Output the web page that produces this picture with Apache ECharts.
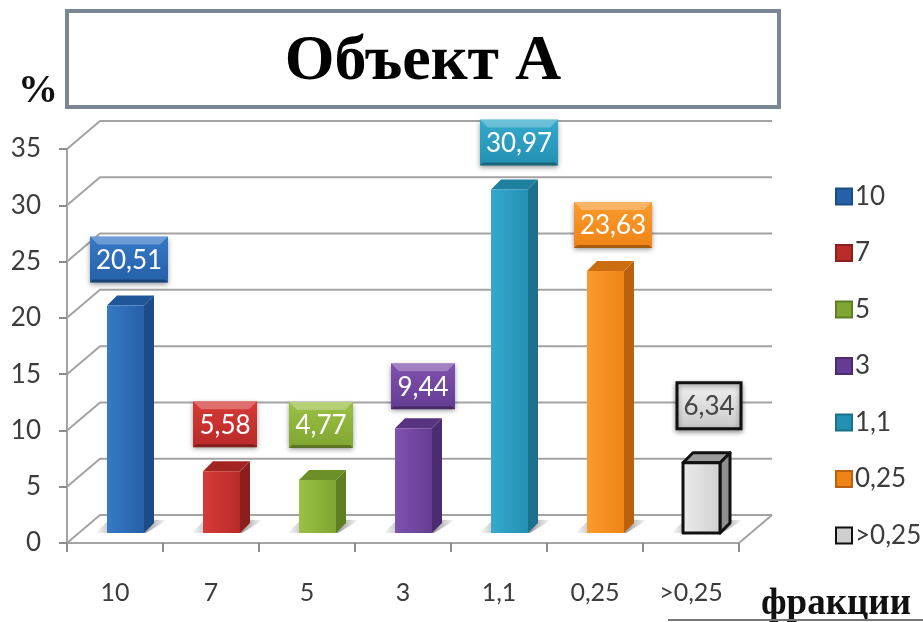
<!DOCTYPE html>
<html>
<head>
<meta charset="utf-8">
<style>html,body{margin:0;padding:0;background:#fff}#chart{width:923px;height:622px}</style>
<script src="https://cdn.jsdelivr.net/npm/echarts@6/dist/echarts.min.js"></script>
</head>
<body>
<div id="chart"></div>
<script>
// Particle-size fractions for site A, drawn as pseudo-3D columns.
const categories = ['10', '7', '5', '3', '1,1', '0,25', '>0,25'];
const shares = [20.51, 5.58, 4.77, 9.44, 30.97, 23.63, 6.34];
const shareLabels = ['20,51', '5,58', '4,77', '9,44', '30,97', '23,63', '6,34'];
const gridTicks = [0, 5, 10, 15, 20, 25, 30, 35];

// Column finishes: front light/dark, side, top, label text and outline.
const finishes = [
  { a: '#3679c6', b: '#2660a8', side: '#1c4c88', top: '#1f5699', text: '#fff', labelDx: 14, labelGap: 13 },
  { a: '#d63a36', b: '#b92a28', side: '#8a1f1e', top: '#a32523', text: '#fff', labelDx: 14, labelGap: 14 },
  { a: '#9cc045', b: '#7fa632', side: '#5f7f22', top: '#6d8f28', text: '#fff', labelDx: 14, labelGap: 22 },
  { a: '#7f52ad', b: '#653c93', side: '#4c2c70', top: '#583380', text: '#fff', labelDx: 20, labelGap: 9 },
  { a: '#34a9cc', b: '#2490b2', side: '#1b708c', top: '#1f7f9e', text: '#fff', labelDx: 20, labelGap: 14 },
  { a: '#fb9a2c', b: '#ef8416', side: '#b9610e', top: '#cc6e10', text: '#fff', labelDx: 18, labelGap: 13 },
  { a: '#ececec', b: '#cfcfcf', side: '#8f8f8f', top: '#9b9b9b', text: '#444', line: '#111', labelDx: 18, labelGap: 24 }
];

const backShift = [33, -28];   // oblique offset of the rear wall
const barWidth = 37, barDepth = 10, barInset = 10, barScale = 0.985;
const SERIF = '"Liberation Serif", serif';
const SANS = 'Lato, sans-serif';

function shade(a, b, vertical) {
  return {
    type: 'linear', x: 0, y: 0, x2: vertical ? 0 : 1, y2: vertical ? 1 : 0,
    colorStops: [{ offset: 0, color: a }, { offset: 1, color: b }]
  };
}

function poly(points, fill, extra) {
  return Object.assign({
    type: 'polygon', shape: { points: points }, style: { fill: fill }
  }, extra || {});
}

// Rear grid line with its diagonal running back from the value axis.
function renderGridLine(params, api) {
  const y = api.coord([0, api.value(0)])[1];
  const sys = params.coordSys;
  const stroke = { stroke: '#a3a3a3', lineWidth: 2, fill: 'none' };
  const children = [{
    type: 'polyline',
    shape: { points: [[sys.x, y], [sys.x + backShift[0], y + backShift[1]], [sys.x + sys.width + backShift[0], y + backShift[1]]] },
    style: stroke
  }];
  if (api.value(0) === 0) {
    children.push({
      type: 'line',
      shape: { x1: sys.x + sys.width, y1: y, x2: sys.x + sys.width + backShift[0], y2: y + backShift[1] },
      style: stroke
    });
  }
  return { type: 'group', children: children };
}

// Floor shadow: strongest behind the column and fading out at both ends.
const floorShadow = {
  type: 'linear', x: 0, y: 0, x2: 1, y2: 0,
  colorStops: [
    { offset: 0, color: 'rgba(80,80,80,0)' },
    { offset: 0.25, color: 'rgba(80,80,80,.4)' },
    { offset: 0.72, color: 'rgba(80,80,80,.55)' },
    { offset: 1, color: 'rgba(80,80,80,0)' }
  ]
};

function renderColumn(index) {
  const f = finishes[index];
  return function (params, api) {
    const centre = api.coord([api.value(0), 0]);
    const top = api.coord([api.value(0), api.value(1)]);
    const x = centre[0] - 8;
    const base = centre[1] - barInset;
    const yTop = base - (centre[1] - top[1]) * barScale;
    const outline = f.line ? { stroke: f.line, lineWidth: 3, lineJoin: 'round' } : {};
    const xr = x + barWidth, d = barDepth;

    const boxW = shareLabels[index].length * 14 + 8, boxH = 46;
    const boxX = x + 8 + f.labelDx - boxW / 2;
    const boxBottom = yTop - d - f.labelGap;
    const boxY = boxBottom - boxH, bevel = 8;
    const boxStyle = f.line
      ? { fill: shade('#f2f2f2', '#c8c8c8', true), stroke: f.line, lineWidth: 3, shadowBlur: 5, shadowColor: 'rgba(0,0,0,.4)', shadowOffsetY: 2 }
      : { fill: shade(f.a, f.b, true), shadowBlur: 5, shadowColor: 'rgba(0,0,0,.4)', shadowOffsetY: 2 };

    const children = [
      poly([[x - 12, base], [xr + 2, base], [xr + d + 13, base - 13], [x + 2, base - 13]], floorShadow),
      poly([[xr, yTop], [xr + d, yTop - d], [xr + d, base - d], [xr, base]], f.side, { style: Object.assign({ fill: f.side }, outline) }),
      poly([[x, yTop], [xr, yTop], [xr + d, yTop - d], [x + d, yTop - d]], f.top, { style: Object.assign({ fill: f.top }, outline) }),
      {
        type: 'rect', shape: { x: x, y: yTop, width: barWidth, height: base - yTop },
        style: Object.assign({ fill: shade(f.a, f.b, false) }, outline)
      },
      { type: 'rect', shape: { x: boxX, y: boxY, width: boxW, height: boxH }, style: boxStyle }
    ];
    if (!f.line) {
      children.push(
        poly([[boxX, boxY], [boxX + boxW, boxY], [boxX + boxW - bevel, boxY + bevel], [boxX + bevel, boxY + bevel]], 'rgba(255,255,255,.28)'),
        poly([[boxX, boxY + boxH], [boxX + boxW, boxY + boxH], [boxX + boxW - 3, boxY + boxH - 3], [boxX + 3, boxY + boxH - 3]], 'rgba(0,0,0,.3)')
      );
    }
    children.push({
      type: 'text',
      style: {
        x: boxX + boxW / 2, y: boxY + boxH / 2 + 1, text: shareLabels[index],
        fill: f.text, font: '26px ' + SANS, align: 'center', verticalAlign: 'middle'
      }
    });
    return { type: 'group', children: children };
  };
}

const columnSeries = categories.map(function (name, i) {
  return {
    type: 'custom', name: name, z: 5 + i,
    data: [[i, shares[i]]],
    encode: { x: 0, y: 1 },
    clip: false,
    itemStyle: {
      color: finishes[i].b,
      borderColor: finishes[i].line || finishes[i].side,
      borderWidth: finishes[i].line ? 3 : 1.5
    },
    renderItem: renderColumn(i)
  };
});

const chart = echarts.init(document.getElementById('chart'), null, { renderer: 'canvas' });
chart.setOption({
  animation: false,
  backgroundColor: '#fff',
  grid: { left: 67, right: 184, top: 149, bottom: 79 },
  legend: {
    orient: 'vertical', left: 830, top: 177, itemWidth: 16, itemHeight: 16, itemGap: 27.5,
    icon: 'rect', data: categories, selectedMode: false,
    textStyle: { fontFamily: SANS, fontSize: 26, color: '#3c3c3c', padding: [0, 0, 0, -2], lineHeight: 29 }
  },
  xAxis: {
    type: 'category', data: categories,
    axisLine: { lineStyle: { color: '#a3a3a3', width: 2 } },
    axisTick: { show: true, alignWithLabel: false, length: 9, lineStyle: { color: '#8c8c8c', width: 2 } },
    axisLabel: { margin: 37, fontFamily: SANS, fontSize: 25, color: '#3c3c3c', interval: 0 }
  },
  yAxis: {
    type: 'value', min: 0, max: 35, interval: 5,
    axisLine: { show: true, lineStyle: { color: '#a3a3a3', width: 2 } },
    axisTick: { show: true, length: 8, lineStyle: { color: '#8c8c8c', width: 2 } },
    axisLabel: { margin: 26, fontFamily: SANS, fontSize: 26, color: '#3c3c3c', padding: [6, 0, 0, 0] },
    splitLine: { show: false }
  },
  series: [{
    type: 'custom', name: 'grid', z: 1, silent: true, clip: false,
    data: gridTicks.map(function (t) { return [t]; }),
    encode: { y: 0 },
    renderItem: renderGridLine
  }].concat(columnSeries),
  graphic: [
    { type: 'rect', z: 20, shape: { x: 67, y: 11, width: 712, height: 96 }, style: { fill: '#fff', stroke: '#7b8794', lineWidth: 4 } },
    { type: 'text', z: 21, style: { x: 423, y: 62, text: 'Объект А', fill: '#000', font: 'bold 64px ' + SERIF, align: 'center', verticalAlign: 'middle' } },
    { type: 'text', z: 21, style: { x: 38, y: 92, text: '%', fill: '#111', font: 'bold 40px ' + SERIF, align: 'center', verticalAlign: 'middle' } },
    { type: 'text', z: 21, style: { x: 836, y: 604, text: 'фракции', fill: '#111', font: 'bold 37px ' + SERIF, align: 'center', verticalAlign: 'middle' } },
    { type: 'line', z: 21, shape: { x1: 668, y1: 620, x2: 923, y2: 620 }, style: { stroke: '#777', lineWidth: 2 } }
  ]
});
</script>
</body>
</html>
